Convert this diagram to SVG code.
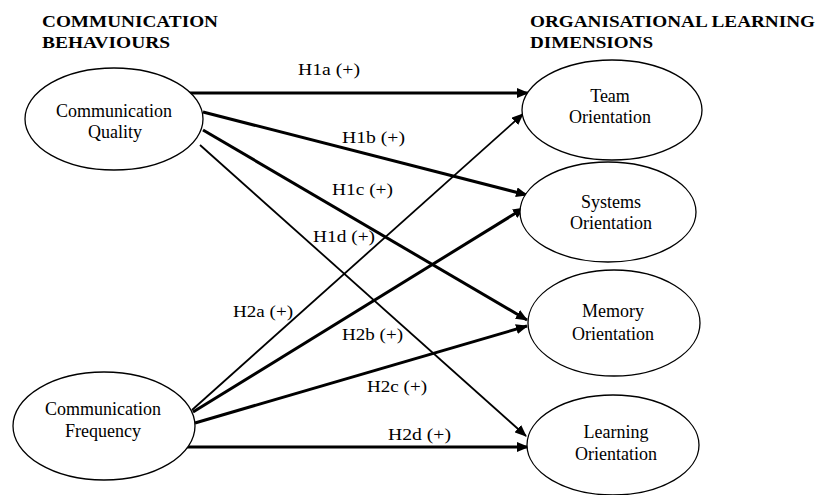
<svg xmlns="http://www.w3.org/2000/svg" width="820" height="495" viewBox="0 0 820 495">
<style>
.title{font-family:"Liberation Serif",serif;font-weight:bold;font-size:16px;fill:#000}
.node ellipse{fill:#fff;stroke:#000;stroke-width:1.3}
.node text{font-family:"Liberation Serif",serif;font-size:18px;fill:#000;text-anchor:middle}
.lbl{font-family:"Liberation Serif",serif;font-size:17px;fill:#000}
.thick{stroke:#000;stroke-width:3;fill:none}
.thin{stroke:#000;stroke-width:1.8;fill:none}
</style>
<defs>
<marker id="ah" markerUnits="userSpaceOnUse" markerWidth="12" markerHeight="10" refX="11" refY="5" orient="auto">
<path d="M0,0 L12,5 L0,10 z" fill="#000"/>
</marker>
</defs>
<rect width="820" height="495" fill="#fff"/>
<g id="titles">
<text class="title" x="42" y="27" textLength="176" lengthAdjust="spacingAndGlyphs">COMMUNICATION</text>
<text class="title" x="42" y="48" textLength="128" lengthAdjust="spacingAndGlyphs">BEHAVIOURS</text>
<text class="title" x="530" y="27" textLength="285" lengthAdjust="spacingAndGlyphs">ORGANISATIONAL LEARNING</text>
<text class="title" x="530" y="48" textLength="123" lengthAdjust="spacingAndGlyphs">DIMENSIONS</text>
</g>
<g id="connectors">
<line class="thick" x1="188" y1="93" x2="528" y2="93" marker-end="url(#ah)"/>
<line class="thick" x1="203" y1="112" x2="527" y2="195" marker-end="url(#ah)"/>
<line class="thick" x1="203" y1="130" x2="527" y2="320" marker-end="url(#ah)"/>
<line class="thin" x1="200" y1="145" x2="526" y2="436" marker-end="url(#ah)"/>
<line class="thin" x1="192" y1="410" x2="523" y2="114" marker-end="url(#ah)"/>
<line class="thick" x1="193" y1="412" x2="524" y2="208" marker-end="url(#ah)"/>
<line class="thick" x1="195" y1="423" x2="527" y2="326" marker-end="url(#ah)"/>
<line class="thick" x1="187" y1="447" x2="528" y2="447" marker-end="url(#ah)"/>
<text class="lbl" x="298" y="75" textLength="62" lengthAdjust="spacingAndGlyphs">H1a (+)</text>
<text class="lbl" x="342" y="143" textLength="63" lengthAdjust="spacingAndGlyphs">H1b (+)</text>
<text class="lbl" x="332" y="195" textLength="61" lengthAdjust="spacingAndGlyphs">H1c (+)</text>
<text class="lbl" x="313" y="242" textLength="62" lengthAdjust="spacingAndGlyphs">H1d (+)</text>
<text class="lbl" x="233" y="317" textLength="60" lengthAdjust="spacingAndGlyphs">H2a (+)</text>
<text class="lbl" x="342" y="340" textLength="61" lengthAdjust="spacingAndGlyphs">H2b (+)</text>
<text class="lbl" x="367" y="392" textLength="60" lengthAdjust="spacingAndGlyphs">H2c (+)</text>
<text class="lbl" x="388" y="440" textLength="63" lengthAdjust="spacingAndGlyphs">H2d (+)</text>
</g>
<g id="cq" class="node">
<ellipse cx="114" cy="119" rx="89" ry="51"/>
<text x="114" y="117">Communication</text>
<text x="115" y="138">Quality</text>
</g>
<g id="cf" class="node">
<ellipse cx="104" cy="426" rx="91" ry="54"/>
<text x="103" y="415">Communication</text>
<text x="103" y="437">Frequency</text>
</g>
<g id="team" class="node">
<ellipse cx="612" cy="110" rx="90" ry="50"/>
<text x="610" y="102">Team</text>
<text x="610" y="123">Orientation</text>
</g>
<g id="systems" class="node">
<ellipse cx="608" cy="212" rx="88" ry="50"/>
<text x="611" y="208">Systems</text>
<text x="611" y="229">Orientation</text>
</g>
<g id="memory" class="node">
<ellipse cx="614" cy="323" rx="86" ry="53"/>
<text x="613" y="317">Memory</text>
<text x="613" y="340">Orientation</text>
</g>
<g id="learning" class="node">
<ellipse cx="613" cy="445" rx="86" ry="50"/>
<text x="616" y="438">Learning</text>
<text x="616" y="460">Orientation</text>
</g>
</svg>
